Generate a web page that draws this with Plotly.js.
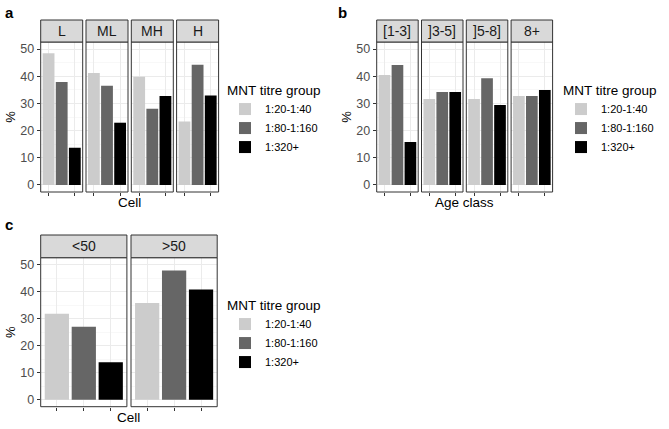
<!DOCTYPE html>
<html>
<head>
<meta charset="utf-8">
<script src="https://cdn.plot.ly/plotly-3.0.1.min.js"></script>
<style>
  html, body { margin: 0; padding: 0; background: #fff; }
  #chart { width: 669px; height: 429px; }
</style>
</head>
<body>
<div id="chart"></div>
<script>
// titre groups (legend) and panel facets
var groups = ['1:20-1:40', '1:80-1:160', '1:320+'];

// panel a: cell
var cellFacets = ['L', 'ML', 'MH', 'H'];
var cell_20_40 = [48.5, 41.2, 39.8, 23.3];
var cell_80_160 = [37.9, 36.5, 28.0, 44.2];
var cell_320 = [13.7, 22.9, 32.7, 32.9];

// panel b: age class
var ageFacets = ['[1-3]', ']3-5]', ']5-8]', '8+'];
var age_20_40 = [40.5, 31.6, 31.6, 32.7];
var age_80_160 = [44.1, 34.2, 39.3, 32.7];
var age_320 = [15.8, 34.2, 29.4, 34.9];

// panel c: cell <50 / >50
var c50Facets = ['<50', '>50'];
var c50_20_40 = [31.8, 35.8];
var c50_80_160 = [27.0, 47.9];
var c50_320 = [13.9, 40.8];

var W = 669, H = 429;
var fx = function (p) { return p / W; };
var fy = function (p) { return 1 - p / H; };

var barColors = ['#CCCCCC', '#666666', '#000000'];
var FONT = 'Liberation Sans, Arial, sans-serif';

var data = [];
var layout = {
    width: W, height: H,
    margin: { l: 0, r: 0, t: 0, b: 0 },
    paper_bgcolor: '#fff',
    plot_bgcolor: '#fff',
    barmode: 'overlay',
    font: { family: FONT, size: 12, color: '#000' },
    shapes: [],
    annotations: []
};

var panels = [
    { facets: cellFacets, series: [cell_20_40, cell_80_160, cell_320],
      starts: [40.7, 86, 131.3, 176.6], width: 42, top: 42, bottom: 192, strip: 20,
      legend: 'legend', legendPos: [225, 77], xtitle: 'Cell', label: 'a', labelPos: [3, 2] },
    { facets: ageFacets, series: [age_20_40, age_80_160, age_320],
      starts: [376.7, 421.5, 466.3, 511.1], width: 41.5, top: 42, bottom: 192, strip: 20,
      legend: 'legend2', legendPos: [561, 77], xtitle: 'Age class', label: 'b', labelPos: [336, 2] },
    { facets: c50Facets, series: [c50_20_40, c50_80_160, c50_320],
      starts: [40.7, 131], width: 86.2, top: 257.7, bottom: 406.7, strip: 235,
      legend: 'legend3', legendPos: [225, 292], xtitle: 'Cell', label: 'c', labelPos: [3, 214] }
];

var xi = 0;
panels.forEach(function (p, pi) {
    var yName = pi === 0 ? 'y' : 'y' + (pi + 1);
    var yKey = pi === 0 ? 'yaxis' : 'yaxis' + (pi + 1);
    var firstX = null;

    p.facets.forEach(function (facet, fi) {
        xi += 1;
        var xName = xi === 1 ? 'x' : 'x' + xi;
        var xKey = xi === 1 ? 'xaxis' : 'xaxis' + xi;
        if (firstX === null) firstX = xName;

        layout[xKey] = {
            domain: [fx(p.starts[fi]), fx(p.starts[fi] + p.width)],
            anchor: yName,
            type: 'category',
            categoryorder: 'array', categoryarray: groups,
            range: [-0.6, 2.6],
            showticklabels: false,
            ticks: 'outside', ticklen: 3, tickcolor: '#333',
            showgrid: true, gridcolor: '#EBEBEB', gridwidth: 1,
            zeroline: false, showline: false, fixedrange: true
        };

        groups.forEach(function (g, gi) {
            data.push({
                type: 'bar',
                x: [g],
                y: [p.series[gi][fi]],
                xaxis: xName, yaxis: yName,
                width: 0.9,
                name: g,
                legend: p.legend,
                legendgroup: p.legend + g,
                showlegend: fi === 0,
                marker: { color: barColors[gi], line: { width: 0 } },
                hoverinfo: 'y'
            });
        });

        // panel border
        layout.shapes.push({
            type: 'rect', xref: xName + ' domain', yref: yName + ' domain',
            x0: 0, x1: 1, y0: 0, y1: 1,
            line: { color: '#333', width: 1 }, fillcolor: 'rgba(0,0,0,0)', layer: 'above'
        });
        // strip
        layout.shapes.push({
            type: 'rect', xref: 'paper', yref: 'paper',
            x0: fx(p.starts[fi]), x1: fx(p.starts[fi] + p.width),
            y0: fy(p.top), y1: fy(p.strip),
            line: { color: '#333', width: 1 }, fillcolor: '#D9D9D9'
        });
        layout.annotations.push({
            xref: 'paper', yref: 'paper',
            x: fx(p.starts[fi] + p.width / 2), y: fy((p.top + p.strip) / 2),
            text: facet, showarrow: false, xanchor: 'center', yanchor: 'middle',
            font: { size: 14, color: '#1A1A1A' }
        });
    });

    layout[yKey] = {
        domain: [fy(p.bottom), fy(p.top)],
        anchor: firstX,
        range: [-2.6, 52.6],
        tick0: 0, dtick: 10,
        ticks: 'outside', ticklen: 3, tickcolor: '#333',
        tickfont: { size: 12.5, color: '#4D4D4D' },
        showgrid: true, gridcolor: '#EBEBEB', gridwidth: 1,
        minor: { dtick: 5, tick0: 5, showgrid: true, gridcolor: '#F3F3F3', gridwidth: 0.6 },
        zeroline: false, showline: false, fixedrange: true
    };

    var x0 = p.starts[0];
    var x1 = p.starts[p.starts.length - 1] + p.width;
    // x title
    layout.annotations.push({
        xref: 'paper', yref: 'paper',
        x: fx((x0 + x1) / 2), y: fy(p.bottom + 1),
        text: p.xtitle, showarrow: false, xanchor: 'center', yanchor: 'top',
        font: { size: 13.5, color: '#000' }
    });
    // y title
    layout.annotations.push({
        xref: 'paper', yref: 'paper',
        x: fx(x0 - 30), y: fy((p.top + p.bottom) / 2),
        text: '%', textangle: -90, showarrow: false, xanchor: 'center', yanchor: 'middle',
        font: { size: 13, color: '#000' }
    });
    // panel letter
    layout.annotations.push({
        xref: 'paper', yref: 'paper',
        x: fx(p.labelPos[0]), y: fy(p.labelPos[1]),
        text: '<b>' + p.label + '</b>', showarrow: false, xanchor: 'left', yanchor: 'top',
        font: { size: 15, color: '#000' }
    });

    layout[p.legend] = {
        x: fx(p.legendPos[0]), y: fy(p.legendPos[1]),
        xanchor: 'left', yanchor: 'top',
        title: { text: 'MNT titre group', font: { size: 13.5, color: '#000' } },
        font: { size: 11, color: '#000' },
        bgcolor: 'rgba(0,0,0,0)',
        traceorder: 'normal',
        itemwidth: 30,
        tracegroupgap: 0
    };
});

var config = { staticPlot: true };
Plotly.newPlot('chart', data, layout, config);
</script>
</body>
</html>
